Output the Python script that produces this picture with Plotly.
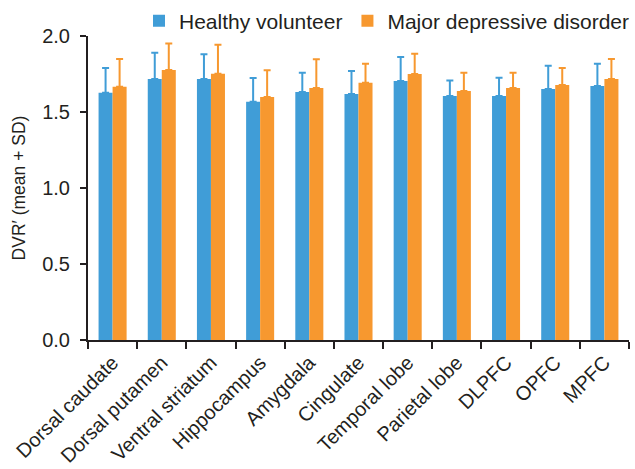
import plotly.graph_objects as go

regions = ["Dorsal caudate", "Dorsal putamen", "Ventral striatum", "Hippocampus",
           "Amygdala", "Cingulate", "Temporal lobe", "Parietal lobe",
           "DLPFC", "OPFC", "MPFC"]

hv_mean = [1.627, 1.717, 1.717, 1.568, 1.632, 1.618, 1.704, 1.605, 1.605, 1.651, 1.671]
hv_sd = [0.163, 0.173, 0.163, 0.156, 0.127, 0.152, 0.158, 0.103, 0.121, 0.154, 0.147]

mdd_mean = [1.666, 1.776, 1.752, 1.599, 1.658, 1.693, 1.750, 1.638, 1.658, 1.678, 1.717]
mdd_sd = [0.183, 0.174, 0.191, 0.175, 0.189, 0.125, 0.134, 0.121, 0.101, 0.112, 0.132]

y_ticks = [0.0, 0.5, 1.0, 1.5, 2.0]

BLUE = "#409dd7"
ORANGE = "#f7982f"
INK = "#231f20"
FONT = "Liberation Sans, Arial, sans-serif"


def series(name, means, sds, color):
    return go.Bar(
        name=name,
        x=regions,
        y=means,
        marker=dict(color=color, line=dict(width=0)),
        error_y=dict(type="data", symmetric=False, array=sds,
                     arrayminus=[0] * len(sds), color=color,
                     thickness=2, width=3.5),
    )


fig = go.Figure([
    series("Healthy volunteer", hv_mean, hv_sd, BLUE),
    series("Major depressive disorder", mdd_mean, mdd_sd, ORANGE),
])

fig.update_layout(
    width=635, height=469,
    margin=dict(l=88, r=6, t=36, b=129, autoexpand=False),
    paper_bgcolor="white", plot_bgcolor="white",
    barmode="group", bargap=0.43, bargroupgap=0,
    font=dict(family=FONT, size=20, color=INK),
    showlegend=True,
    legend=dict(orientation="h", xref="container", yref="container",
                x=1.0, xanchor="right", y=0.955, yanchor="middle",
                font=dict(size=21, color=INK), itemwidth=30,
                bgcolor="rgba(0,0,0,0)", traceorder="normal"),
)

fig.update_xaxes(
    type="category", tickangle=-45, tickson="boundaries",
    ticks="outside", ticklen=7, tickwidth=2, tickcolor=INK,
    showline=True, linecolor=INK, linewidth=2, showgrid=False,
    tickfont=dict(size=20, color=INK), ticklabelstandoff=1,
    automargin=False,
)

fig.update_yaxes(
    range=[0, 2], tickvals=y_ticks, ticktext=[f"{v:.1f}" for v in y_ticks],
    ticks="outside", ticklen=6, tickwidth=2, tickcolor=INK,
    showline=True, linecolor=INK, linewidth=2, showgrid=False, zeroline=False,
    tickfont=dict(size=20, color=INK), ticklabelstandoff=6,
    title=dict(text="DVR\u2032 (mean + SD)", font=dict(size=17.5, color=INK), standoff=12),
    automargin=False,
)

fig.write_html("out.html")
